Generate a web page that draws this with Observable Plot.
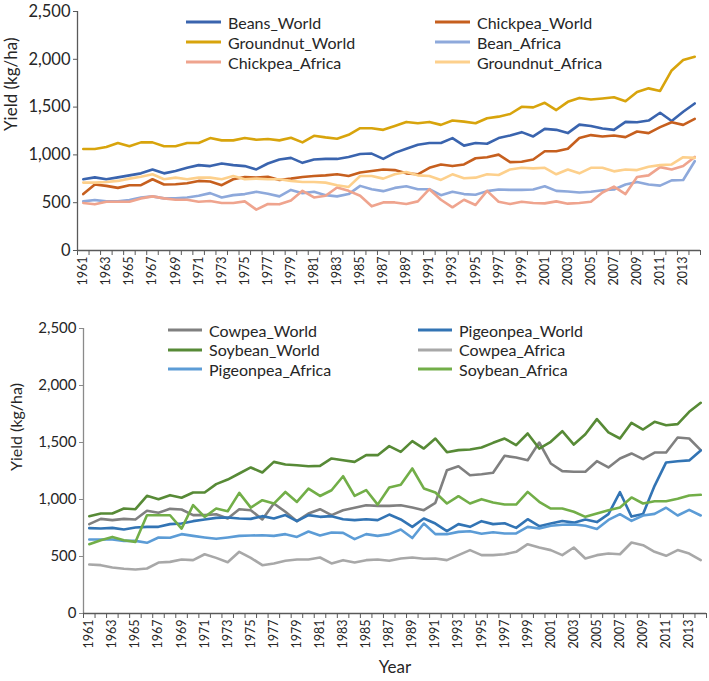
<!DOCTYPE html>
<html><head><meta charset="utf-8">
<script src="https://cdn.jsdelivr.net/npm/d3@7"></script>
<script src="https://cdn.jsdelivr.net/npm/@observablehq/plot@0.6"></script>
<style>
body{margin:0;background:#fff;}
#wrap{position:relative;width:709px;height:681px;font-family:Lato,sans-serif;overflow:hidden;}
.chart{position:absolute;left:0;}
.leg{position:absolute;display:flex;align-items:center;font-size:16px;color:#262626;white-space:nowrap;height:20px;}
.leg svg{margin-right:7px;}
</style></head><body><div id="wrap"></div>
<script>
// Categories
const years = d3.range(1961, 2015);
const tickYears = years.filter(y => y % 2 === 1);
const yTicks = [0, 500, 1000, 1500, 2000, 2500];

// Top panel series (kg/ha)
const beansWorld = [745,765,745,765,786,807,848,807,831,865, 893,883,910,893,883,848,910,952,969,917, 952,958,958,979,1010,1014,958,1021,1065,1107, 1124,1124,1176,1097,1124,1117,1176,1203,1238,1193, 1272,1262,1228,1317,1303,1276,1262,1345,1341,1359, 1441,1355,1452,1538];
const chickpeaWorld = [590,690,676,655,683,683,745,690,693,703, 728,721,683,745,769,762,772,738,752,769, 779,786,797,779,815,831,848,841,807,797, 865,900,883,900,965,976,1003,924,928,952, 1038,1038,1065,1176,1207,1193,1203,1186,1245,1228, 1290,1341,1314,1376];
const groundnutWorld = [1062,1062,1083,1124,1090,1131,1131,1090,1090,1124, 1124,1176,1152,1152,1176,1159,1166,1152,1179,1131, 1200,1183,1169,1210,1279,1279,1262,1303,1345,1331, 1345,1314,1359,1348,1331,1383,1400,1428,1503,1497, 1545,1469,1555,1596,1579,1590,1603,1562,1659,1696, 1669,1883,1993,2027];
const beanAfrica = [514,528,514,514,528,555,566,545,545,555, 572,600,555,579,590,614,593,566,634,600, 614,579,566,590,676,641,621,655,672,641, 641,579,614,590,583,621,638,634,634,638, 672,624,617,607,614,631,638,690,717,690, 679,734,738,934];
const chickpeaAfrica = [497,483,510,510,510,545,566,545,531,531, 510,517,497,497,514,428,486,483,524,624, 555,572,659,624,572,462,503,503,486,514, 641,531,452,531,476,624,510,486,510,497, 493,514,490,497,510,607,669,590,769,786, 872,848,883,979];
const groundnutAfrica = [710,710,717,728,752,772,797,745,762,745, 762,762,745,779,745,752,745,745,728,717, 717,710,683,665,779,779,752,797,821,786, 779,738,797,755,762,797,790,848,865,859, 865,797,848,807,865,865,828,848,841,876, 893,900,976,969];

// Bottom panel series (kg/ha)
const cowpeaWorld = [784,830,819,830,825,901,883,918,912,863, 863,871,833,915,906,825,965,892,810,877, 915,863,906,927,950,944,944,950,930,906, 971,1257,1292,1213,1222,1234,1383,1368,1345,1500, 1316,1249,1243,1243,1336,1281,1360,1404,1354,1412, 1412,1544,1535,1433];
const pigeonpeaWorld = [749,746,751,737,754,760,760,784,789,810, 825,839,842,833,830,854,833,863,810,863, 848,854,827,819,827,819,868,825,760,833, 789,722,784,760,810,784,792,751,827,766, 790,812,797,825,802,872,1064,850,873,1120, 1325,1336,1343,1430];
const soybeanWorld = [854,877,877,921,915,1032,1003,1038,1015,1061, 1061,1135,1175,1228,1281,1237,1330,1307,1301,1292, 1295,1360,1345,1330,1389,1389,1468,1418,1512,1447, 1535,1415,1433,1439,1456,1497,1535,1477,1579,1447, 1506,1599,1482,1573,1705,1588,1535,1673,1614,1681, 1652,1661,1769,1848];
const cowpeaAfrica = [430,424,404,392,386,395,447,453,474,468, 520,488,450,541,488,424,439,462,474,474, 491,439,468,447,468,474,462,482,491,480, 482,468,512,556,512,512,520,541,608,579, 556,512,579,482,512,526,520,623,599,541, 506,556,526,468];
const pigeonpeaAfrica = [649,649,649,637,637,620,667,664,696,681, 667,655,667,681,684,687,681,696,672,719, 684,710,707,652,696,681,696,737,662,789, 696,696,716,722,699,713,702,702,760,746, 770,779,782,770,741,821,871,812,860,874, 928,860,909,860];
const soybeanAfrica = [608,643,672,643,628,862,862,862,745,950, 847,921,897,1058,929,994,964,1066,979,1096, 1031,1081,1204,1031,1083,955,1105,1130,1272,1097, 1061,965,1029,965,1003,974,956,956,1067,980, 921,921,892,848,877,906,930,1018,965,985, 985,1006,1035,1041];

const names1 = ["Beans_World","Chickpea_World","Groundnut_World","Bean_Africa","Chickpea_Africa","Groundnut_Africa"];
const values1 = [beansWorld, chickpeaWorld, groundnutWorld, beanAfrica, chickpeaAfrica, groundnutAfrica];
const colors1 = ["#3A64AE","#C65F1E","#D8A40C","#8EA9DB","#EFA48E","#FDD08C"];

const names2 = ["Cowpea_World","Pigeonpea_World","Soybean_World","Cowpea_Africa","Pigeonpea_Africa","Soybean_Africa"];
const values2 = [cowpeaWorld, pigeonpeaWorld, soybeanWorld, cowpeaAfrica, pigeonpeaAfrica, soybeanAfrica];
const colors2 = ["#808080","#3274B4","#578A36","#A8A8A8","#5C9CD6","#72AE48"];

function tidy(names, values) {
  const rows = [];
  names.forEach((n, i) => values[i].forEach((v, j) => rows.push({series: n, year: years[j], value: v})));
  return rows;
}
const rows1 = tidy(names1, values1);
const rows2 = tidy(names2, values2);
const bounds = years.map(y => y - 0.5).concat([years[years.length - 1] + 0.5]);

function chart(rows, names, colors, o) {
  return Plot.plot({
    width: 709, height: o.height,
    marginLeft: o.ml, marginRight: o.mr, marginTop: o.mt, marginBottom: o.mb,
    x: {type: "linear", domain: [bounds[0], bounds[bounds.length - 1]]},
    y: {domain: [0, 2500]},
    color: {domain: names, range: colors},
    style: {fontFamily: "Lato, sans-serif", color: "#262626", background: "white", overflow: "visible"},
    marks: [
      Plot.line(rows, {x: "year", y: "value", z: "series", stroke: "series", strokeWidth: 2.6, strokeLinejoin: "round", strokeLinecap: "round"}),
      Plot.ruleX([bounds[0]], {stroke: o.yAxisColor, strokeWidth: 1.3}),
      Plot.ruleY([0], {stroke: "#595959", strokeWidth: 1.3}),
      Plot.axisY({ticks: yTicks, tickFormat: d3.format(","), tickSize: 4, tickPadding: 3, fontSize: o.yFont, label: null, stroke: o.yAxisColor, color: "#262626"}),
      Plot.axisX({ticks: tickYears, tickSize: 0, tickPadding: 6, tickRotate: -90, tickFormat: d => String(d), fontSize: 12.5, label: null}),
      Plot.axisX({ticks: bounds, tickSize: 5, tickFormat: () => "", label: null, stroke: "#595959"}),
      Plot.text(["Yield (kg/ha)"], {frameAnchor: "left", dx: o.titleDx, rotate: -90, fontSize: o.titleFont, fill: "#262626"}),
      ...(o.xTitle ? [Plot.text([o.xTitle], {frameAnchor: "bottom", dy: o.xTitleDy, fontSize: 17, fill: "#262626"})] : [])
    ]
  });
}

const wrap = document.getElementById("wrap");
const c1 = chart(rows1, names1, colors1, {height: 300, ml: 77, mr: 9, mt: 11, mb: 50, yFont: 16.5, titleFont: 17, titleDx: -66, yAxisColor: "#595959"});
c1.classList.add("chart"); c1.style.top = "0px";
wrap.appendChild(c1);
const c2 = chart(rows2, names2, colors2, {height: 371, ml: 83, mr: 3, mt: 18, mb: 68, yFont: 15, titleFont: 16, titleDx: -67, yAxisColor: "#8a8a8a", xTitle: "Year", xTitleDy: 59});
c2.classList.add("chart"); c2.style.top = "310px";
wrap.appendChild(c2);

function legend(names, colors, cols, rowsY, lineLen) {
  names.forEach((n, i) => {
    const d = document.createElement("div");
    d.className = "leg";
    d.style.left = cols[i % 2] + "px";
    d.style.top = (rowsY[Math.floor(i / 2)] - 10) + "px";
    d.innerHTML = `<svg width="${lineLen}" height="4"><line x1="0" x2="${lineLen}" y1="2" y2="2" stroke="${colors[i]}" stroke-width="3"/></svg><span>${n}</span>`;
    wrap.appendChild(d);
  });
}
legend(names1, colors1, [186, 435], [22, 42, 62], 35);
legend(names2, colors2, [168, 418], [330, 349.5, 369], 34);
</script></body></html>
